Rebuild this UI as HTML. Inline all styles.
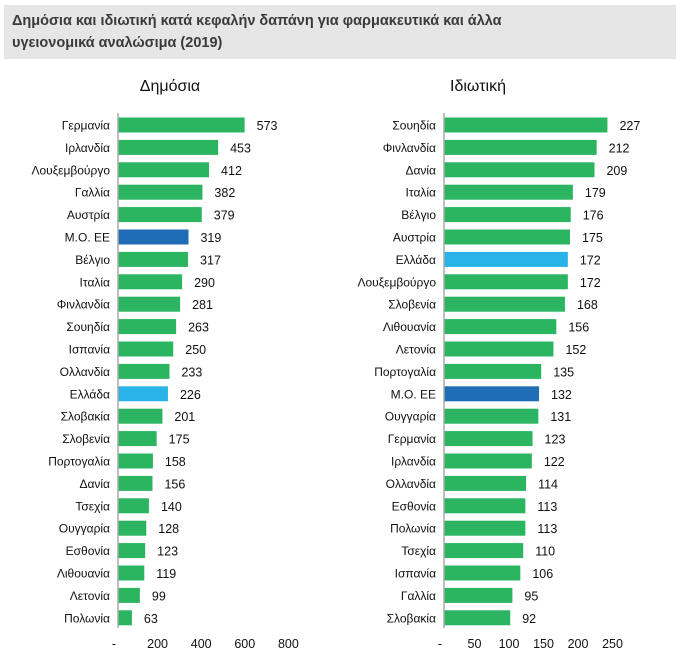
<!DOCTYPE html>
<html><head><meta charset="utf-8"><style>
body{margin:0;background:#fff;width:680px;height:663px;overflow:hidden;font-family:"Liberation Sans","DejaVu Sans",sans-serif}
</style></head><body>
<svg width="680" height="663" xmlns="http://www.w3.org/2000/svg" font-family="Liberation Sans, DejaVu Sans, sans-serif">
<rect x="4" y="5" width="672" height="54" fill="#e6e6e6"/>
<text x="12" y="25" font-size="14.5" font-weight="bold" fill="#3a3a3a">Δημόσια και ιδιωτική κατά κεφαλήν δαπάνη για φαρμακευτικά και άλλα</text>
<text x="12" y="47" font-size="14.5" font-weight="bold" fill="#3a3a3a">υγειονομικά αναλώσιμα (2019)</text>
<text x="170" y="91" font-size="16" text-anchor="middle" fill="#111">Δημόσια</text>
<text x="478" y="91" font-size="16" text-anchor="middle" fill="#111">Ιδιωτική</text>
<g id="left"></g><g id="right"></g>
</svg>
<script>
const pubCats=["Γερμανία","Ιρλανδία","Λουξεμβούργο","Γαλλία","Αυστρία","Μ.Ο. ΕΕ","Βέλγιο","Ιταλία","Φινλανδία","Σουηδία","Ισπανία","Ολλανδία","Ελλάδα","Σλοβακία","Σλοβενία","Πορτογαλία","Δανία","Τσεχία","Ουγγαρία","Εσθονία","Λιθουανία","Λετονία","Πολωνία"];
const pubVals=[573,453,412,382,379,319,317,290,281,263,250,233,226,201,175,158,156,140,128,123,119,99,63];
const pubTicks=[0,200,400,600,800];
const privCats=["Σουηδία","Φινλανδία","Δανία","Ιταλία","Βέλγιο","Αυστρία","Ελλάδα","Λουξεμβούργο","Σλοβενία","Λιθουανία","Λετονία","Πορτογαλία","Μ.Ο. ΕΕ","Ουγγαρία","Γερμανία","Ιρλανδία","Ολλανδία","Εσθονία","Πολωνία","Τσεχία","Ισπανία","Γαλλία","Σλοβακία"];
const privVals=[227,212,209,179,176,175,172,172,168,156,152,135,132,131,123,122,114,113,113,110,106,95,92];
const privTicks=[0,50,100,150,200,250];
const NS="http://www.w3.org/2000/svg";
function mk(parent,tag,attrs,txt){const e=document.createElementNS(NS,tag);for(const k in attrs)e.setAttribute(k,attrs[k]);if(txt!==undefined)e.textContent=txt;parent.appendChild(e);return e;}
function yPos(i){return 125+i*22.4;}
function draw(gid,cats,vals,ticks,x0,scale,tickScale,prefix){
  const g=document.getElementById(gid);
  const x=v=>x0+v*scale;
  const xt=v=>x0-4+v*tickScale;
  cats.forEach((c,i)=>{
    const y=yPos(i);
    let col="#2bb560";
    if(c==="Μ.Ο. ΕΕ")col="#1f6db4";
    if(c==="Ελλάδα")col="#2ab3e8";
    const r=mk(g,"rect",{x:x0,y:y-7.5,width:x(vals[i])-x0,height:15,fill:col});
    
    
    const l=mk(g,"text",{x:x0-8,y:y+4.5,"font-size":12,"text-anchor":"end",fill:"#111"},c);
    
    
    const v=mk(g,"text",{x:x(vals[i])+12,y:y+5,"font-size":12.5,fill:"#111"},vals[i]);
    
    
  });
  const ax=mk(g,"line",{x1:x0,x2:x0,y1:113,y2:628,stroke:"#aaa","stroke-width":1.5});
  
  
  ticks.forEach(t=>{
    const tx=mk(g,"text",{x:xt(t),y:648,"font-size":12.5,"text-anchor":"middle",fill:"#111"},t===0?"-":t);
    
    
  });
}
draw("left",pubCats,pubVals,pubTicks,118,0.221,0.218,"public");
draw("right",privCats,privVals,privTicks,444,0.72,0.69,"private");
</script>
</body></html>
